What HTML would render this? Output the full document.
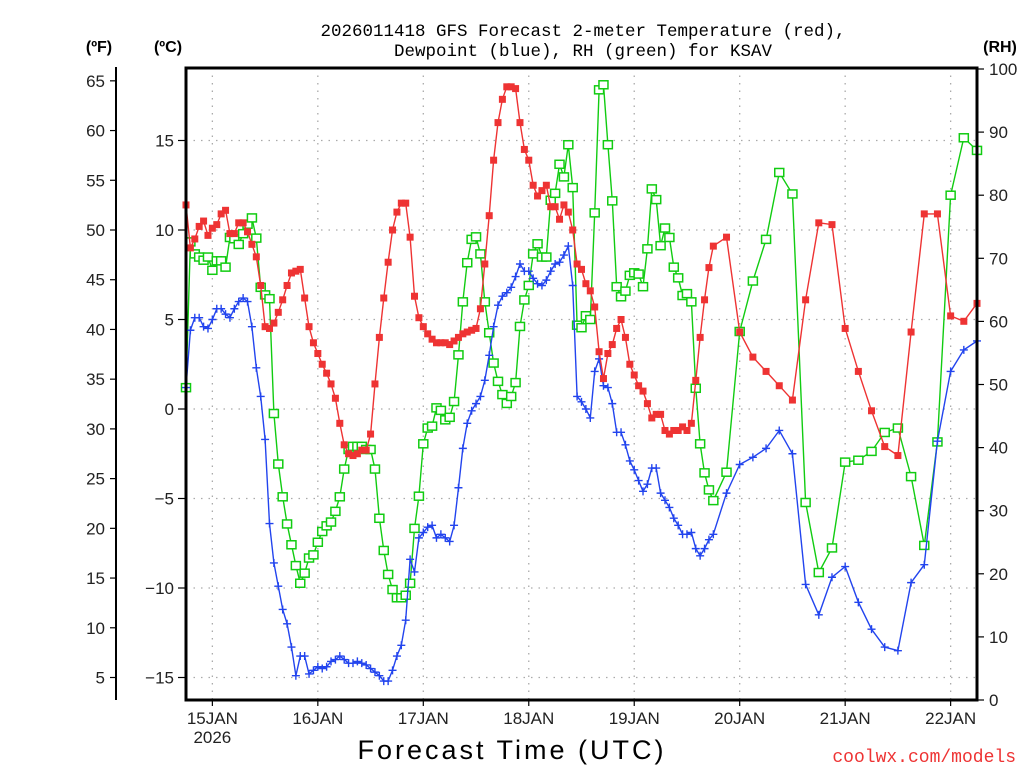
<!DOCTYPE html>
<html><head><meta charset="utf-8">
<style>
html,body{margin:0;padding:0;background:#fff;}
svg{display:block;font-family:"Liberation Sans",sans-serif;}
</style></head>
<body>
<svg id="chart" width="1024" height="768" viewBox="0 0 1024 768" xmlns="http://www.w3.org/2000/svg">
<rect x="0" y="0" width="1024" height="768" fill="#fff"/>
<g id="grid"></g>
<g id="series"></g>
<g id="axes"></g>
<text x="583" y="36" text-anchor="middle" font-size="17.5" fill="#000" font-family="Liberation Mono, monospace">2026011418 GFS Forecast 2-meter Temperature (red),</text>
<text x="583" y="56" text-anchor="middle" font-size="17.5" fill="#000" font-family="Liberation Mono, monospace">Dewpoint (blue), RH (green) for KSAV</text>
<text x="99" y="52" text-anchor="middle" font-size="16" font-weight="bold" fill="#000">(ºF)</text>
<text x="168" y="52" text-anchor="middle" font-size="16" font-weight="bold" fill="#000">(ºC)</text>
<text x="1000" y="52" text-anchor="middle" font-size="16" font-weight="bold" fill="#000">(RH)</text>
<text x="512" y="759" text-anchor="middle" font-size="27" fill="#000" letter-spacing="3">Forecast Time (UTC)</text>
<text x="1016" y="762" text-anchor="end" font-size="18" fill="#e33" font-family="Liberation Mono, monospace">coolwx.com/models</text>
</svg>
<script>
const hoursHourly = [];
for (let h = 0; h <= 120; h++) hoursHourly.push(h);
const hours3 = [123,126,129,132,135,138,141,144,147,150,153,156,159,162,165,168,171,174,177,180];
const hours = hoursHourly.concat(hours3);

const tempC = [11.4,9.0,9.5,10.2,10.5,9.7,10.1,10.3,10.9,11.1,9.8,9.8,10.4,10.4,9.9,9.2,8.5,6.9,4.6,4.5,4.8,5.4,6.1,6.9,7.6,7.7,7.8,6.2,4.6,3.7,3.1,2.5,2.0,1.4,0.6,-0.8,-2.0,-2.5,-2.6,-2.5,-2.3,-2.3,-1.4,1.4,4.0,6.2,8.2,10.0,11.0,11.5,11.5,9.6,6.3,5.1,4.6,4.2,3.9,3.7,
3.7,3.7,3.6,3.8,4.0,4.2,4.3,4.4,4.5,5.6,8.1,10.8,13.9,16.0,17.3,18.0,18.0,17.9,16.0,14.5,13.9,12.5,11.9,12.2,12.5,11.3,11.3,10.6,11.4,11.0,10.0,8.1,7.8,7.0,6.6,5.7,3.2,1.7,3.1,3.6,4.5,5.0,4.0,2.5,1.9,1.3,1.0,0.3,-0.5,-0.3,-0.3,-1.2,-1.4,-1.2,-1.2,-1.0,-1.2,-0.8,1.6,4.0,6.1,7.9,9.1,
9.6,4.3,2.9,2.1,1.3,0.5,6.1,10.4,10.3,4.5,2.1,-0.1,-2.1,-2.6,4.3,10.9,10.9,5.2,4.9,5.9];

const dewC = [1.2,4.4,5.1,5.1,4.6,4.5,5.0,5.6,5.6,5.3,5.1,5.6,6.0,6.2,6.0,4.6,2.3,0.7,-1.7,-6.4,-8.6,-9.9,-11.2,-12.0,-13.3,-14.9,-13.8,-13.8,-14.8,-14.6,-14.4,-14.5,-14.4,-14.1,-14.0,-13.8,-14.0,-14.2,-14.2,-14.1,-14.2,-14.3,-14.5,-14.7,-14.9,-15.2,-15.2,-14.6,-13.8,-13.2,-11.8,-8.4,-9.1,-7.2,-6.9,-6.6,-6.5,-7.2,
-7.0,-7.2,-7.4,-6.5,-4.4,-2.2,-0.8,-0.1,0.3,0.7,1.6,3.0,4.6,5.8,6.3,6.5,6.8,7.4,8.1,7.7,7.7,7.3,7.0,6.9,7.2,7.7,8.1,8.2,8.6,9.1,6.9,0.7,0.4,0.0,-0.5,2.1,2.8,1.3,1.2,0.3,-1.3,-1.3,-2.0,-2.9,-3.4,-4.0,-4.6,-4.2,-3.3,-3.3,-4.7,-5.1,-5.5,-6.1,-6.5,-7.0,-7.0,-6.9,-7.8,-8.2,-7.8,-7.3,-7.0,
-4.7,-3.1,-2.7,-2.2,-1.2,-2.5,-9.8,-11.5,-9.4,-8.8,-10.8,-12.3,-13.3,-13.5,-9.7,-8.7,-1.8,2.1,3.3,3.8];

const rhPct = [49.5,72.6,70.7,70.2,69.7,70.2,68.1,69.6,69.6,68.6,73.3,73.1,72.2,73.9,75.4,76.4,73.2,65.4,64.2,63.6,45.4,37.4,32.2,27.9,24.6,21.3,18.5,20.1,22.5,23.0,25.0,26.7,27.6,28.2,29.9,32.2,36.6,39.7,40.2,40.2,40.2,39.7,39.7,36.6,28.8,23.7,19.9,17.5,16.2,16.2,16.6,18.5,27.2,32.3,40.6,43.1,43.4,46.3,
45.9,44.4,44.8,47.3,54.7,63.1,69.3,73.0,73.4,70.7,63.1,58.2,53.4,50.5,48.4,47.0,48.1,50.3,59.2,63.4,65.7,70.7,72.3,70.2,70.2,79.2,80.3,84.9,82.9,88.0,81.2,59.4,59.0,60.9,60.3,77.2,96.7,97.5,88.0,79.1,65.5,63.9,64.8,67.3,67.7,67.5,65.5,71.5,81.0,79.3,72.0,74.8,73.3,68.6,66.9,64.1,64.4,63.1,49.4,40.6,36.0,33.3,31.6,
36.1,58.4,66.4,73.0,83.6,80.2,31.3,20.2,24.1,37.7,38.0,39.4,42.4,43.1,35.4,24.5,40.9,80.0,89.1,87.1];

const celsiusTicks = [15,10,5,0,-5,-10,-15];
const fahrenheitTicks = [65,60,55,50,45,40,35,30,25,20,15,10,5];
const rhTicks = [100,90,80,70,60,50,40,30,20,10,0];
const dayLabels = ["15JAN","16JAN","17JAN","18JAN","19JAN","20JAN","21JAN","22JAN"];
const dayHours = [6,30,54,78,102,126,150,174];

const NS = "http://www.w3.org/2000/svg";
const L = 186, R = 977, T = 68, B = 700;
const X = h => L + (h / 180) * (R - L);
const Yc = c => 409 - c * 17.9;
const Yrh = r => B - r * (B - 69) / 100;
const Yf = f => Yc((f - 32) * 5 / 9);

function mk(tag, attrs, parent) {
  const e = document.createElementNS(NS, tag);
  for (const k in attrs) e.setAttribute(k, attrs[k]);
  parent.appendChild(e);
  return e;
}
const grid = document.getElementById('grid');
const axes = document.getElementById('axes');
const series = document.getElementById('series');

celsiusTicks.forEach(c => {
  const ln = mk('line', {x1: L, x2: R, y1: Yc(c), y2: Yc(c), stroke: '#aaa', 'stroke-width': 1.3, 'stroke-dasharray': '1.5 6'}, grid);
  
  
});
dayHours.forEach(h => {
  const ln = mk('line', {x1: X(h), x2: X(h), y1: T, y2: B, stroke: '#aaa', 'stroke-width': 1.3, 'stroke-dasharray': '1.5 6'}, grid);
  
  
});

const frame = mk('rect', {x: L, y: T, width: R - L, height: B - T, fill: 'none', stroke: '#000', 'stroke-width': 3}, axes);



celsiusTicks.forEach(c => {
  const y = Yc(c);
  const t = mk('line', {x1: 178, x2: L, y1: y, y2: y, stroke: '#000', 'stroke-width': 1.2}, axes);
  
  
  const tx = mk('text', {x: 174, y: y + 6, 'text-anchor': 'end', 'font-size': 17, fill: '#222'}, axes);
  tx.textContent = c < 0 ? '\u2212' + Math.abs(c) : String(c);
  
  
});
const fax = mk('line', {x1: 116, x2: 116, y1: 67, y2: B, stroke: '#000', 'stroke-width': 2}, axes);


fahrenheitTicks.forEach(f => {
  const y = Yf(f);
  const t = mk('line', {x1: 110, x2: 116, y1: y, y2: y, stroke: '#000', 'stroke-width': 1.2}, axes);
  
  
  const tx = mk('text', {x: 105, y: y + 6, 'text-anchor': 'end', 'font-size': 17, fill: '#222'}, axes);
  tx.textContent = String(f);
  
  
});
rhTicks.forEach(r => {
  const y = Yrh(r);
  const t = mk('line', {x1: R, x2: R + 7, y1: y, y2: y, stroke: '#000', 'stroke-width': 1.2}, axes);
  
  
  const tx = mk('text', {x: 989, y: y + 6, 'text-anchor': 'start', 'font-size': 17, fill: '#222'}, axes);
  tx.textContent = String(r);
  
  
});
dayHours.forEach((h, i) => {
  const x = X(h);
  const t = mk('line', {x1: x, x2: x, y1: B, y2: B + 6, stroke: '#000', 'stroke-width': 1.2}, axes);
  
  
  const tx = mk('text', {x: x, y: B + 24, 'text-anchor': 'middle', 'font-size': 17, fill: '#222'}, axes);
  tx.textContent = dayLabels[i];
  
  
});
const yr = mk('text', {x: X(dayHours[0]), y: B + 43, 'text-anchor': 'middle', 'font-size': 17, fill: '#222'}, axes);
yr.textContent = '2026';



function drawSeries(vals, yf, color, kind, name) {
  const g = mk('g', {}, series);
  
  
  const pts = vals.map((v, i) => X(hours[i]).toFixed(1) + ',' + yf(v).toFixed(1)).join(' ');
  const pl = mk('polyline', {points: pts, fill: 'none', stroke: color, 'stroke-width': 1.4}, g);
  
  
  vals.forEach((v, i) => {
    const x = X(hours[i]), y = yf(v);
    let m;
    if (kind === 'fill') m = mk('rect', {x: x - 3.5, y: y - 3.5, width: 7, height: 7, fill: color}, g);
    else if (kind === 'hollow') m = mk('rect', {x: x - 4.5, y: y - 4, width: 9, height: 8, fill: '#fff', stroke: color, 'stroke-width': 1.5}, g);
    else m = mk('path', {d: `M${x-4},${y}H${x+4}M${x},${y-4}V${y+4}`, stroke: color, 'stroke-width': 1.4, fill: 'none'}, g);
    
    
  });
}
drawSeries(rhPct, Yrh, '#11cc11', 'hollow', 'rh');
drawSeries(dewC, Yc, '#2244ee', 'plus', 'dewpoint');
drawSeries(tempC, Yc, '#ee3333', 'fill', 'temperature');
</script>
</body></html>
